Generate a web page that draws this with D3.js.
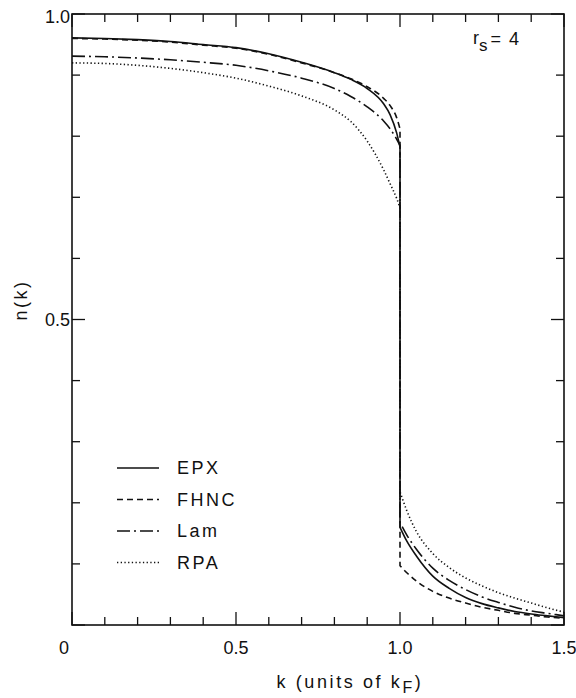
<!DOCTYPE html>
<html><head><meta charset="utf-8">
<script src="https://cdn.jsdelivr.net/npm/d3@7"></script>
<style>body{margin:0;background:#fff}svg text{font-family:"Liberation Sans",Arial,sans-serif;fill:#111}</style>
</head><body><svg id="c" width="576" height="698"></svg>
<script>
// ---- data ----
const kBelow = [0,0.1,0.2,0.3,0.4,0.5,0.6,0.7,0.8,0.85,0.9,0.95,0.97,0.99,1.0];
const kAbove = [1.0,1.02,1.05,1.1,1.15,1.2,1.25,1.3,1.35,1.4,1.45,1.5];
const epxBelow  = [0.961,0.960,0.958,0.955,0.950,0.945,0.935,0.921,0.904,0.893,0.878,0.853,0.835,0.805,0.782];
const fhncBelow = [0.960,0.959,0.957,0.954,0.949,0.944,0.934,0.920,0.904,0.894,0.881,0.862,0.850,0.830,0.812];
const lamBelow  = [0.931,0.930,0.928,0.925,0.921,0.916,0.907,0.895,0.878,0.865,0.848,0.825,0.812,0.795,0.785];
const rpaBelow  = [0.920,0.919,0.916,0.911,0.904,0.895,0.882,0.866,0.843,0.824,0.792,0.745,0.722,0.698,0.683];
const epxAbove  = [0.160,0.138,0.113,0.080,0.060,0.045,0.035,0.028,0.022,0.018,0.015,0.012];
const fhncAbove = [0.097,0.086,0.072,0.055,0.044,0.036,0.029,0.024,0.019,0.016,0.013,0.011];
const lamAbove  = [0.168,0.148,0.124,0.093,0.073,0.058,0.046,0.037,0.029,0.023,0.019,0.015];
const rpaAbove  = [0.218,0.188,0.153,0.117,0.094,0.077,0.064,0.053,0.044,0.036,0.028,0.021];
const seriesNames = ["EPX","FHNC","Lam","RPA"];
const xTickLabels = ["0","0.5","1.0","1.5"];
const yTickLabels = ["0.5","1.0"];

// ---- layout ----
const L=72,R=564,T=14,B=625;
const svg=d3.select("#c");
const x=d3.scaleLinear().domain([0,1.5]).range([L,R]);
const y=d3.scaleLinear().domain([0,1]).range([B,T]);
const styles={EPX:null,FHNC:"6,4",Lam:"13,4,2,4",RPA:"1.3,2.4"};
const series=[
 {name:"EPX",below:epxBelow,above:epxAbove},
 {name:"FHNC",below:fhncBelow,above:fhncAbove},
 {name:"Lam",below:lamBelow,above:lamAbove},
 {name:"RPA",below:rpaBelow,above:rpaAbove}];

// frame
svg.append("rect").attr("x",L).attr("y",T).attr("width",R-L).attr("height",B-T)
  .attr("fill","none").attr("stroke","#111").attr("stroke-width",1.6);

// ticks all four sides, inward
const xt=d3.range(0,1.5001,0.1), yt=d3.range(0,1.0001,0.1);
const isMaj=v=>Math.abs(v*2-Math.round(v*2))<1e-6;
const tl=v=>isMaj(v)?13:8;
const g=svg.append("g").attr("stroke","#111").attr("stroke-width",1.3);
xt.forEach(v=>{
  g.append("line").attr("x1",x(v)).attr("x2",x(v)).attr("y1",B).attr("y2",B-tl(v));
  g.append("line").attr("x1",x(v)).attr("x2",x(v)).attr("y1",T).attr("y2",T+tl(v));
});
yt.forEach(v=>{
  g.append("line").attr("y1",y(v)).attr("y2",y(v)).attr("x1",L).attr("x2",L+tl(v));
  g.append("line").attr("y1",y(v)).attr("y2",y(v)).attr("x1",R).attr("x2",R-tl(v));
});

// tick labels
xTickLabels.forEach(s=>{
  const v=+s;
  svg.append("text").attr("x",x(v)+(v===0?-8:0)).attr("y",654).attr("text-anchor","middle")
    .attr("font-size",18).text(s);
});
yTickLabels.forEach(s=>{
  const v=+s;
  svg.append("text").attr("x",L-2).attr("y",y(v)+(v===1?9:6)).attr("text-anchor","end")
    .attr("font-size",18).text(s);
});

// axis titles
svg.append("text").attr("transform","translate(27,300) rotate(-90)").attr("text-anchor","middle")
  .attr("font-size",18).attr("letter-spacing",2.5).text("n(k)");
const xt2=svg.append("text").attr("x",350).attr("y",688).attr("text-anchor","middle")
  .attr("font-size",18).attr("letter-spacing",2.6);
xt2.append("tspan").text("k (units of k");
xt2.append("tspan").attr("dy",5).attr("font-size",16).text("F");
xt2.append("tspan").attr("dy",-5).text(")");

const rs=svg.append("text").attr("x",473).attr("y",44).attr("font-size",18);
rs.append("tspan").text("r");
rs.append("tspan").attr("dy",7).attr("font-size",17).text("s");
rs.append("tspan").attr("dy",-6).attr("dx",3).attr("letter-spacing",1.5).text("= 4");

// curves
const line=d3.line().x(d=>x(d[0])).y(d=>y(d[1])).curve(d3.curveMonotoneX);
series.forEach(s=>{
  const p1=line(kBelow.map((k,i)=>[k,s.below[i]]));
  const p2=line(kAbove.map((k,i)=>[k,s.above[i]])).replace(/^M/,"L");
  svg.append("path").attr("d",p1+p2).attr("fill","none").attr("stroke","#111")
    .attr("stroke-width",1.6).attr("stroke-dasharray",styles[s.name]);
});

// legend
seriesNames.forEach((n,i)=>{
  const ly=468+i*31.5;
  svg.append("line").attr("x1",117).attr("x2",159).attr("y1",ly).attr("y2",ly)
    .attr("stroke","#111").attr("stroke-width",1.4).attr("stroke-dasharray",styles[n]);
  svg.append("text").attr("x",177).attr("y",ly+6).attr("font-size",18)
    .attr("letter-spacing",2.5).text(n);
});
</script></body></html>
